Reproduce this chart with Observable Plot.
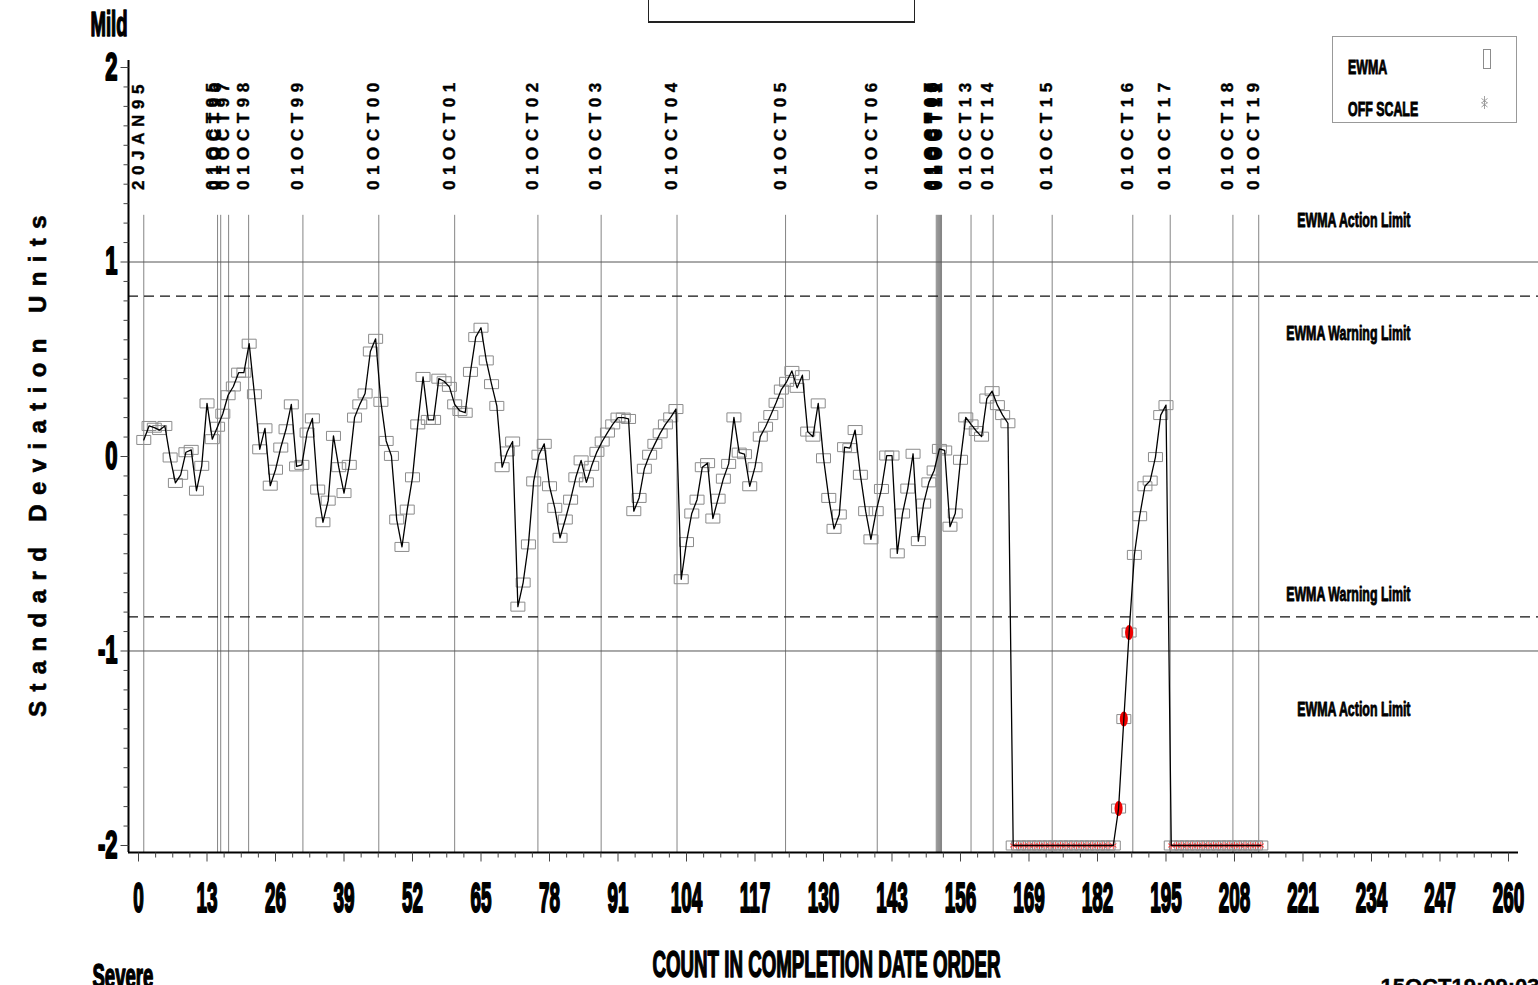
<!DOCTYPE html>
<html>
<head>
<meta charset="utf-8">
<script src="https://cdn.jsdelivr.net/npm/d3@7"></script>
<script src="https://cdn.jsdelivr.net/npm/@observablehq/plot@0.6"></script>
<style>
  html, body { margin: 0; padding: 0; background: #fff; overflow: hidden; }
  #chart { position: relative; width: 1538px; height: 985px; overflow: hidden; background: #fff; }
  #chart > svg { position: absolute; left: 0; top: 0; max-width: none; }
  #titlebox { position: absolute; left: 648px; top: -12px; width: 265px; height: 32px;
              border: 1px solid #222; border-bottom-width: 2px; background: #fff; }
  #legend { position: absolute; left: 1332px; top: 36px; width: 183px; height: 85px;
            border: 1px solid #999; background: #fff; }
  #legend svg { display: block; }
</style>
</head>
<body>
<div id="chart">
  <div id="titlebox"></div>
  <div id="legend"></div>
</div>
<script>
// EWMA of standardised values, plotted against count in completion-date order.
const firstCount = 1;
// null = value below the bottom of the scale (drawn as OFF SCALE)
const ewma = [
  0.085, 0.157, 0.148, 0.136, 0.157, -0.005, -0.136, -0.094, 0.022, 0.034,
  -0.176, -0.048, 0.273, 0.089, 0.153, 0.22, 0.315, 0.36, 0.431, 0.431,
  0.58, 0.32, 0.037, 0.145, -0.15, -0.068, 0.046, 0.14, 0.268, -0.051,
  -0.043, 0.123, 0.196, -0.17, -0.338, -0.227, 0.106, -0.055, -0.188, -0.043,
  0.2, 0.268, 0.324, 0.54, 0.605, 0.281, 0.08, 0.003, -0.324, -0.465,
  -0.273, -0.107, 0.165, 0.409, 0.188, 0.188, 0.4, 0.387, 0.358, 0.268,
  0.234, 0.225, 0.435, 0.614, 0.662, 0.494, 0.372, 0.26, -0.055, 0.026,
  0.077, -0.772, -0.648, -0.452, -0.128, 0.009, 0.065, -0.153, -0.264, -0.418,
  -0.324, -0.222, -0.107, -0.02, -0.133, -0.048, 0.024, 0.077, 0.123, 0.165,
  0.2, 0.2, 0.193, -0.281, -0.213, -0.063, 0.009, 0.065, 0.119, 0.165,
  0.201, 0.244, -0.631, -0.44, -0.293, -0.222, -0.055, -0.034, -0.319, -0.217,
  -0.114, -0.038, 0.201, 0.02, 0.012, -0.153, -0.055, 0.102, 0.153, 0.213,
  0.276, 0.344, 0.384, 0.44, 0.353, 0.418, 0.128, 0.102, 0.273, -0.009,
  -0.213, -0.372, -0.298, 0.048, 0.043, 0.136, -0.094, -0.281, -0.426, -0.281,
  -0.167, 0.005, 0.005, -0.498, -0.293, -0.165, 0.014, -0.435, -0.242, -0.133,
  -0.072, 0.039, 0.031, -0.361, -0.293, -0.017, 0.201, 0.165, 0.131, 0.102,
  0.298, 0.336, 0.264, 0.213, 0.171,
  null, null, null, null, null, null, null, null, null, null,
  null, null, null, null, null, null, null, null, null, null,
  -1.81, -1.35, -0.905, -0.506, -0.307, -0.153, -0.124, -0.003, 0.213, 0.264,
  null, null, null, null, null, null, null, null, null,
  null, null, null, null, null, null, null, null, null
];

// reference dates and where they fall in the count order
const refDates = ["20JAN95", "01OCT95", "01OCT96", "01OCT97", "01OCT98", "01OCT99",
  "01OCT00", "01OCT01", "01OCT02", "01OCT03", "01OCT04", "01OCT05", "01OCT06",
  "01OCT07", "01OCT08", "01OCT09", "01OCT10", "01OCT11", "01OCT12",
  "01OCT13", "01OCT14", "01OCT15", "01OCT16", "01OCT17", "01OCT18", "01OCT19"];
const refCounts = [1.0, 15.0, 15.6, 17.1, 20.9, 31.2,
  45.6, 60.0, 75.8, 87.8, 102.2, 122.8, 140.2,
  151.4, 151.6, 151.8, 152.0, 152.2, 152.4,
  158.0, 162.2, 173.4, 188.7, 195.8, 207.7, 212.6];

const xTicks = [0, 13, 26, 39, 52, 65, 78, 91, 104, 117, 130, 143, 156, 169, 182, 195, 208, 221, 234, 247, 260];
const yTicks = [-2, -1, 0, 1, 2];
const actionLimit = 1;
const warningLimit = 0.825;
const offScaleLevel = -2;
const legendLabels = ["EWMA", "OFF SCALE"];
const stamp = "15OCT19:09:03";

const xDomain = [-1.9, 261.9];
const yDomain = [-2.036, 2.036];
const font = "'Liberation Sans', Arial, Helvetica, sans-serif";

const points = ewma.map((v, i) => ({
  count: firstCount + i,
  value: v,
  off: v == null,
  plotY: v == null ? offScaleLevel : v
}));
const offPoints = points.filter(p => p.off);
// points outside the warning band are flagged in red
const alarmPoints = points.filter(p => !p.off && Math.abs(p.value) > warningLimit);

const xMinor = d3.range(0, 260 + 1e-9, 13 / 4).filter(t => Math.abs(t / 13 - Math.round(t / 13)) > 1e-6);
const yMinor = d3.range(-20, 21).map(k => k / 10).filter(t => Math.abs(t - Math.round(t)) > 1e-6);

// marker shapes
const boxSymbol = { draw(c) { c.rect(-7, -4.5, 14, 9); } };
const ellipseSymbol = { draw(c) {
  const rx = 4, ry = 7.5, k = 0.5523;
  c.moveTo(rx, 0);
  c.bezierCurveTo(rx, ry * k, rx * k, ry, 0, ry);
  c.bezierCurveTo(-rx * k, ry, -rx, ry * k, -rx, 0);
  c.bezierCurveTo(-rx, -ry * k, -rx * k, -ry, 0, -ry);
  c.bezierCurveTo(rx * k, -ry, rx, -ry * k, rx, 0);
  c.closePath();
} };
const tickDown = len => ({ draw(c) { c.moveTo(0, 0); c.lineTo(0, len); } });
const tickLeft = len => ({ draw(c) { c.moveTo(0, 0); c.lineTo(-len, 0); } });

const limitLabels = [
  { y: actionLimit, dy: -35, text: "EWMA Action Limit" },
  { y: warningLimit, dy: 44, text: "EWMA Warning Limit" },
  { y: -warningLimit, dy: -16, text: "EWMA Warning Limit" },
  { y: -actionLimit, dy: 65, text: "EWMA Action Limit" }
];

// every text element of a group carries the group's name as its aria-label
const tag = name => () => name;
// heavy lettering: black fill with a black outline
const heavy = w => ({ fill: "black", stroke: "black", strokeWidth: w, fontWeight: "bold", fontFamily: font });

const svg = Plot.plot({
  width: 1538,
  height: 985,
  marginLeft: 128,
  marginRight: 20,
  marginTop: 60,
  marginBottom: 133,
  style: { background: "#fff", overflow: "hidden" },
  x: { domain: xDomain, axis: null },
  y: { domain: yDomain, axis: null },
  marks: [
    // date reference lines
    Plot.ruleX(refCounts, { x: d => d, y1: yDomain[0], y2: 1.24, stroke: "#858585", strokeWidth: 1 }),
    Plot.text(refDates, {
      x: (d, i) => refCounts[i], y: 1.37, text: d => d, rotate: -90,
      textAnchor: "start", lineAnchor: "bottom", fontSize: 17,
      ...heavy(0.4),
      ariaLabel: tag("date-labels")
    }),
    // limits
    Plot.ruleY([actionLimit, -actionLimit], { y: d => d, stroke: "#555", strokeWidth: 1, insetRight: -20 }),
    Plot.ruleY([warningLimit, -warningLimit], { y: d => d, stroke: "#111", strokeWidth: 1.2, strokeDasharray: "10,6", insetRight: -20 }),
    ...limitLabels.map(l => Plot.text([l], {
      y: d => d.y, text: d => d.text, frameAnchor: "right", dx: -108, dy: l.dy,
      textAnchor: "end", lineAnchor: "bottom", fontSize: 20,
      ...heavy(0.9),
      ariaLabel: tag("limit-label")
    })),
    // EWMA markers, off-scale flags, alarms and the connecting line
    Plot.dot(points, { x: "count", y: "plotY", symbol: boxSymbol, fill: "none", stroke: "#8c8c8c", strokeWidth: 1 }),
    Plot.dot(offPoints, { x: "count", y: "plotY", symbol: "asterisk", r: 3.4, fill: "none", stroke: "#ff2a2a", strokeWidth: 0.9 }),
    Plot.dot(alarmPoints, { x: "count", y: "value", symbol: ellipseSymbol, fill: "#ee0000", stroke: "none" }),
    Plot.line(points, { x: "count", y: "plotY", stroke: "black", strokeWidth: 1.3 }),
    // axes
    Plot.ruleY([yDomain[0]], { y: d => d, stroke: "black", strokeWidth: 2 }),
    Plot.ruleX([xDomain[0]], { x: d => d, stroke: "black", strokeWidth: 2 }),
    Plot.dot(xTicks, { x: d => d, y: yDomain[0], symbol: tickDown(9), fill: "none", stroke: "#444", strokeWidth: 1 }),
    Plot.dot(xMinor, { x: d => d, y: yDomain[0], symbol: tickDown(5), fill: "none", stroke: "#444", strokeWidth: 1 }),
    Plot.dot(yTicks, { x: xDomain[0], y: d => d, symbol: tickLeft(8), fill: "none", stroke: "#444", strokeWidth: 1 }),
    Plot.dot(yMinor, { x: xDomain[0], y: d => d, symbol: tickLeft(5), fill: "none", stroke: "#444", strokeWidth: 1 }),
    Plot.text(xTicks, {
      x: d => d, y: yDomain[0], text: d => String(d), dy: 46,
      textAnchor: "middle", lineAnchor: "middle", fontSize: 42,
      ...heavy(2.2),
      ariaLabel: tag("x-tick-labels")
    }),
    Plot.text(yTicks, {
      x: xDomain[0], y: d => d, text: d => String(d), dx: -11,
      textAnchor: "end", lineAnchor: "middle", fontSize: 38,
      ...heavy(2),
      ariaLabel: tag("y-tick-labels")
    }),
    // axis titles and corner notes
    Plot.text(["COUNT IN COMPLETION DATE ORDER"], {
      frameAnchor: "bottom", text: d => d, dx: 3, dy: 124,
      textAnchor: "middle", lineAnchor: "bottom", fontSize: 36,
      ...heavy(1.6),
      ariaLabel: tag("x-title")
    }),
    Plot.text(["Standard Deviation Units"], {
      frameAnchor: "left", text: d => d, dx: -83, dy: 5, rotate: -90,
      textAnchor: "middle", lineAnchor: "bottom", fontSize: 24,
      ...heavy(0.6),
      ariaLabel: tag("y-title")
    }),
    Plot.text(["Mild"], {
      frameAnchor: "top-left", text: d => d, dx: -38, dy: -25,
      textAnchor: "start", lineAnchor: "bottom", fontSize: 35,
      ...heavy(1.6),
      ariaLabel: tag("mild")
    }),
    Plot.text(["Severe"], {
      frameAnchor: "bottom-left", text: d => d, dx: -36, dy: 135,
      textAnchor: "start", lineAnchor: "bottom", fontSize: 35,
      ...heavy(1.6),
      ariaLabel: tag("severe")
    }),
    Plot.text([stamp], {
      frameAnchor: "bottom-right", text: d => d, dx: -138, dy: 141,
      textAnchor: "start", lineAnchor: "bottom", fontSize: 22,
      ...heavy(0.4),
      ariaLabel: tag("stamp")
    })
  ]
});

// narrow the heavy SAS-style lettering
function texts(label) {
  return svg.querySelectorAll(`text[aria-label="${label}"]`);
}
function condense(label, s) {
  texts(label).forEach(t => {
    t.setAttribute("transform", (t.getAttribute("transform") || "") + ` scale(${s},1)`);
  });
}
function spaced(label, px) {
  texts(label).forEach(t => { t.setAttribute("letter-spacing", px); t.style.letterSpacing = px + "px"; });
}
condense("x-tick-labels", 0.45);
condense("y-tick-labels", 0.58);
condense("limit-label", 0.62);
condense("x-title", 0.52);
condense("mild", 0.53);
condense("severe", 0.53);
spaced("date-labels", 5.6);
spaced("y-title", 9.4);

const chart = document.getElementById("chart");
chart.insertBefore(svg, chart.firstChild);

// legend
const lg = d3.select("#legend").append("svg").attr("width", 183).attr("height", 85);
lg.selectAll("text").data(legendLabels).join("text")
  .attr("transform", (d, i) => `translate(15,${37 + i * 42}) scale(0.62,1)`)
  .attr("font-family", font).attr("font-weight", "bold").attr("font-size", 20)
  .attr("stroke", "black").attr("stroke-width", 0.9).attr("paint-order", "stroke")
  .text(d => d);
lg.append("rect").attr("x", 150.5).attr("y", 12.5).attr("width", 7).attr("height", 19)
  .attr("fill", "none").attr("stroke", "#8c8c8c");
lg.append("path")
  .attr("d", "M151.5,59V72M148.5,61.5L154.5,66M154.5,61.5L148.5,66M148.5,65.5L154.5,70M154.5,65.5L148.5,70")
  .attr("fill", "none").attr("stroke", "#8c8c8c").attr("stroke-width", 0.8);
</script>
</body>
</html>
